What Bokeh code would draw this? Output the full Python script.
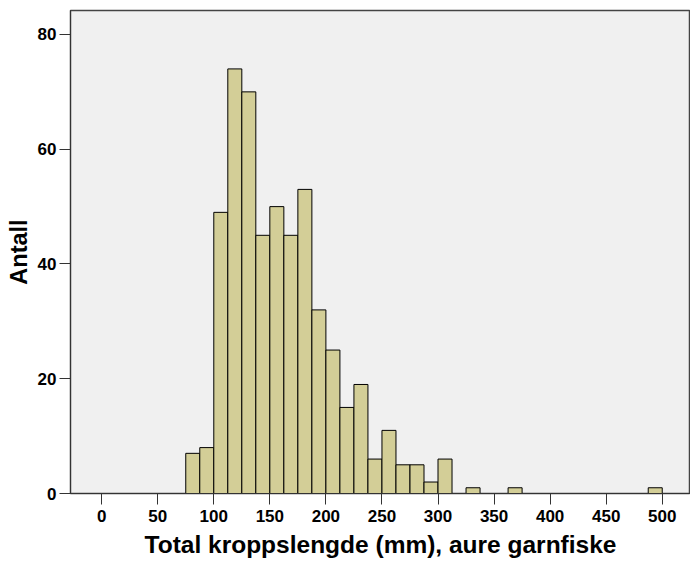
from bokeh.plotting import figure
from bokeh.models import Range1d, FixedTicker, ColumnDataSource
from bokeh.embed import file_html
from bokeh.resources import INLINE

# Histogram data (bins of 12.5 mm starting at 75 mm)
bin_start = 75.0
bin_width = 12.5
counts = [7, 8, 49, 74, 70, 45, 50, 45, 53, 32, 25, 15, 19, 6, 11, 5, 5, 2, 6,
          0, 1, 0, 0, 1, 0, 0, 0, 0, 0, 0, 0, 0, 0, 1]
x_ticks = [0, 50, 100, 150, 200, 250, 300, 350, 400, 450, 500]
y_ticks = [0, 20, 40, 60, 80]
x_title = "Total kroppslengde (mm), aure garnfiske"
y_title = "Antall"

lefts, rights, tops = [], [], []
for i, c in enumerate(counts):
    if c > 0:
        lefts.append(bin_start + i * bin_width)
        rights.append(bin_start + (i + 1) * bin_width)
        tops.append(c)
src = ColumnDataSource(dict(left=lefts, right=rights, top=tops, bottom=[0] * len(tops)))

p = figure(width=690, height=565, output_backend="svg", toolbar_location=None,
           x_range=Range1d(-27.8, 525.2), y_range=Range1d(0, 84.18),
           min_border_left=70, min_border_right=0, min_border_top=10, min_border_bottom=72)
p.background_fill_color = "#F0F0F0"
p.border_fill_color = "white"
p.outline_line_color = "#444444"
p.outline_line_width = 1.5
p.xgrid.visible = False
p.ygrid.visible = False

p.quad(left="left", right="right", top="top", bottom="bottom", source=src,
       fill_color="#D3CE97", line_color="black", line_width=1)

for ax in (p.xaxis[0], p.yaxis[0]):
    ax.axis_line_color = "#333333"
    ax.major_tick_line_color = "#333333"
    ax.major_tick_out = 11
    ax.major_tick_in = 0
    ax.minor_tick_line_color = None
    ax.major_label_text_font = "Liberation Sans"
    ax.major_label_text_font_style = "bold"
    ax.major_label_text_font_size = "17px"
    ax.major_label_text_color = "black"
    ax.axis_label_text_font = "Liberation Sans"
    ax.axis_label_text_font_style = "bold"
    ax.axis_label_text_color = "black"

p.xaxis.axis_label_text_font_size = "24.5px"
p.yaxis.axis_label_text_font_size = "23.5px"
p.xaxis.ticker = FixedTicker(ticks=x_ticks)
p.yaxis.ticker = FixedTicker(ticks=y_ticks)
p.xaxis.axis_label = x_title
p.yaxis.axis_label = y_title
p.xaxis.major_label_standoff = 5
p.yaxis.major_label_standoff = 3
p.xaxis.axis_label_standoff = 6
p.yaxis.axis_label_standoff = 3

open("out.html", "w").write(file_html(p, INLINE))
